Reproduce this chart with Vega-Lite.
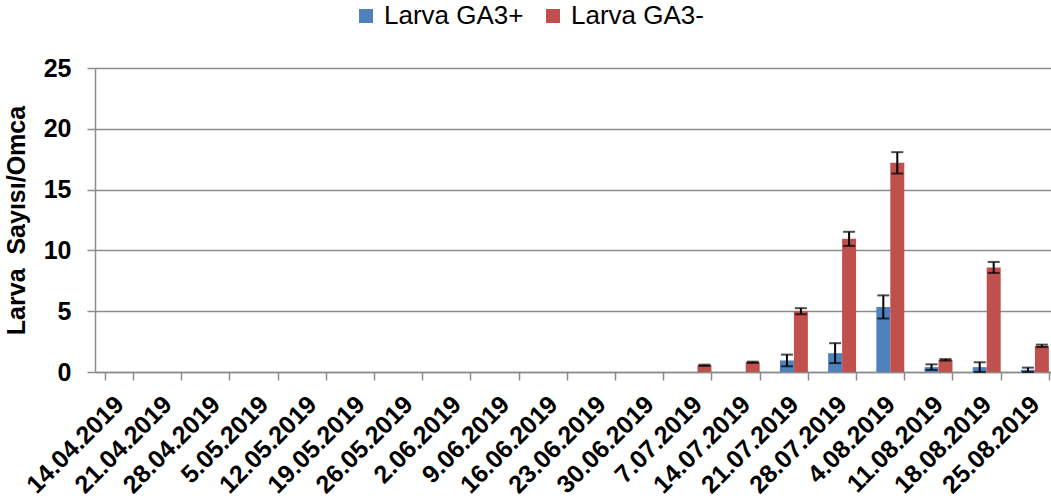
{
  "$schema": "https://vega.github.io/schema/vega-lite/v6.json",
  "width": 956,
  "height": 304,
  "autosize": {"type": "none"},
  "padding": {"left": 95, "top": 68, "right": 0, "bottom": 129},
  "background": "white",
  "config": {"font": "Liberation Sans", "view": {"stroke": null}},
  "data": {
    "values": [
      {"date": "14.04.2019", "series": "Larva GA3+", "value": 0, "lo": 0, "hi": 0},
      {"date": "14.04.2019", "series": "Larva GA3-", "value": 0, "lo": 0, "hi": 0},
      {"date": "21.04.2019", "series": "Larva GA3+", "value": 0, "lo": 0, "hi": 0},
      {"date": "21.04.2019", "series": "Larva GA3-", "value": 0, "lo": 0, "hi": 0},
      {"date": "28.04.2019", "series": "Larva GA3+", "value": 0, "lo": 0, "hi": 0},
      {"date": "28.04.2019", "series": "Larva GA3-", "value": 0, "lo": 0, "hi": 0},
      {"date": "5.05.2019", "series": "Larva GA3+", "value": 0, "lo": 0, "hi": 0},
      {"date": "5.05.2019", "series": "Larva GA3-", "value": 0, "lo": 0, "hi": 0},
      {"date": "12.05.2019", "series": "Larva GA3+", "value": 0, "lo": 0, "hi": 0},
      {"date": "12.05.2019", "series": "Larva GA3-", "value": 0, "lo": 0, "hi": 0},
      {"date": "19.05.2019", "series": "Larva GA3+", "value": 0, "lo": 0, "hi": 0},
      {"date": "19.05.2019", "series": "Larva GA3-", "value": 0, "lo": 0, "hi": 0},
      {"date": "26.05.2019", "series": "Larva GA3+", "value": 0, "lo": 0, "hi": 0},
      {"date": "26.05.2019", "series": "Larva GA3-", "value": 0, "lo": 0, "hi": 0},
      {"date": "2.06.2019", "series": "Larva GA3+", "value": 0, "lo": 0, "hi": 0},
      {"date": "2.06.2019", "series": "Larva GA3-", "value": 0, "lo": 0, "hi": 0},
      {"date": "9.06.2019", "series": "Larva GA3+", "value": 0, "lo": 0, "hi": 0},
      {"date": "9.06.2019", "series": "Larva GA3-", "value": 0, "lo": 0, "hi": 0},
      {"date": "16.06.2019", "series": "Larva GA3+", "value": 0, "lo": 0, "hi": 0},
      {"date": "16.06.2019", "series": "Larva GA3-", "value": 0, "lo": 0, "hi": 0},
      {"date": "23.06.2019", "series": "Larva GA3+", "value": 0, "lo": 0, "hi": 0},
      {"date": "23.06.2019", "series": "Larva GA3-", "value": 0, "lo": 0, "hi": 0},
      {"date": "30.06.2019", "series": "Larva GA3+", "value": 0, "lo": 0, "hi": 0},
      {"date": "30.06.2019", "series": "Larva GA3-", "value": 0, "lo": 0, "hi": 0},
      {"date": "7.07.2019", "series": "Larva GA3+", "value": 0, "lo": 0, "hi": 0},
      {"date": "7.07.2019", "series": "Larva GA3-", "value": 0.55, "lo": 0.5, "hi": 0.6},
      {"date": "14.07.2019", "series": "Larva GA3+", "value": 0, "lo": 0, "hi": 0},
      {"date": "14.07.2019", "series": "Larva GA3-", "value": 0.8, "lo": 0.75, "hi": 0.85},
      {"date": "21.07.2019", "series": "Larva GA3+", "value": 0.95, "lo": 0.47, "hi": 1.43},
      {"date": "21.07.2019", "series": "Larva GA3-", "value": 5.0, "lo": 4.75, "hi": 5.25},
      {"date": "28.07.2019", "series": "Larva GA3+", "value": 1.55, "lo": 0.73, "hi": 2.37},
      {"date": "28.07.2019", "series": "Larva GA3-", "value": 10.95, "lo": 10.37, "hi": 11.53},
      {"date": "4.08.2019", "series": "Larva GA3+", "value": 5.35, "lo": 4.4, "hi": 6.3},
      {"date": "4.08.2019", "series": "Larva GA3-", "value": 17.2, "lo": 16.32, "hi": 18.08},
      {"date": "11.08.2019", "series": "Larva GA3+", "value": 0.4, "lo": 0.17, "hi": 0.63},
      {"date": "11.08.2019", "series": "Larva GA3-", "value": 1.0, "lo": 0.94, "hi": 1.06},
      {"date": "18.08.2019", "series": "Larva GA3+", "value": 0.4, "lo": 0.0, "hi": 0.8},
      {"date": "18.08.2019", "series": "Larva GA3-", "value": 8.6, "lo": 8.15, "hi": 9.05},
      {"date": "25.08.2019", "series": "Larva GA3+", "value": 0.18, "lo": 0.0, "hi": 0.36},
      {"date": "25.08.2019", "series": "Larva GA3-", "value": 2.15, "lo": 2.05, "hi": 2.25}
    ]
  },
  "encoding": {
    "x": {
      "field": "date",
      "type": "nominal",
      "sort": null,
      "scale": {"range": [0, 964], "paddingInner": 0.42, "paddingOuter": 0.21},
      "axis": {
        "title": null,
        "labelAngle": -45,
        "labelAlign": "right",
        "labelBaseline": "middle",
        "labelFontSize": 25,
        "labelFontWeight": "bold",
        "labelColor": "black",
        "labelPadding": 20,
        "labelOverlap": false,
        "labelBound": false,
        "tickBand": "extent",
        "tickSize": 8,
        "tickColor": "#8c8c8c",
        "tickWidth": 1.5,
        "domainColor": "#8c8c8c",
        "domainWidth": 1.5,
        "grid": false
      }
    },
    "xOffset": {"field": "series", "type": "nominal", "scale": {"paddingInner": 0, "paddingOuter": 0}}
  },
  "layer": [
    {
      "mark": {"type": "bar"},
      "encoding": {
        "y": {
          "field": "value",
          "type": "quantitative",
          "title": "Larva\u00a0 Sayısı/Omca",
          "scale": {"domain": [0, 25], "nice": false},
          "axis": {
            "values": [0, 5, 10, 15, 20, 25],
            "labelFontSize": 25,
            "labelFontWeight": "bold",
            "labelColor": "black",
            "labelPadding": 16,
            "tickSize": 8,
            "tickColor": "#8c8c8c",
            "tickWidth": 1.5,
            "domainColor": "#8c8c8c",
            "domainWidth": 1.5,
            "gridColor": "#8c8c8c",
            "gridWidth": 1.5,
            "titleFontSize": 25,
            "titleFontWeight": "bold",
            "titleColor": "black",
            "titlePadding": 14
          }
        },
        "color": {
          "field": "series",
          "type": "nominal",
          "scale": {"domain": ["Larva GA3+", "Larva GA3-"], "range": ["#4F81BD", "#C0504D"]},
          "legend": {
            "orient": "none",
            "legendX": 258,
            "legendY": -65,
            "direction": "horizontal",
            "title": null,
            "labelFontSize": 26,
            "labelColor": "black",
            "symbolType": "square",
            "symbolSize": 196,
            "symbolStrokeWidth": 0,
            "columnPadding": 16,
            "labelOffset": 5
          }
        }
      }
    },
    {
      "transform": [{"filter": "datum.hi > 0"}],
      "mark": {"type": "rule", "color": "black", "strokeWidth": 2},
      "encoding": {
        "y": {"field": "lo", "type": "quantitative", "title": "Larva\u00a0 Sayısı/Omca"},
        "y2": {"field": "hi"}
      }
    },
    {
      "transform": [{"filter": "datum.hi > 0"}],
      "mark": {"type": "tick", "color": "black", "thickness": 2, "size": 12},
      "encoding": {
        "y": {"field": "lo", "type": "quantitative", "title": "Larva\u00a0 Sayısı/Omca"}
      }
    },
    {
      "transform": [{"filter": "datum.hi > 0"}],
      "mark": {"type": "tick", "color": "black", "thickness": 2, "size": 12},
      "encoding": {
        "y": {"field": "hi", "type": "quantitative", "title": "Larva\u00a0 Sayısı/Omca"}
      }
    }
  ]
}
